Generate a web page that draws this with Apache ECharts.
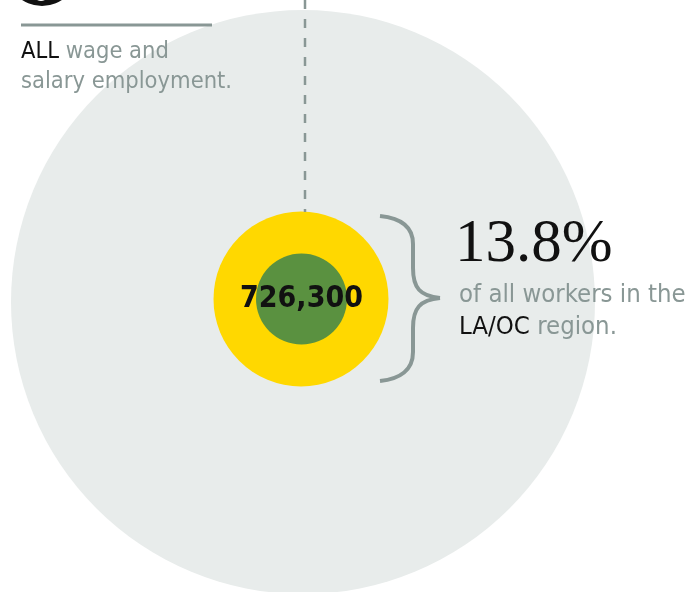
<!DOCTYPE html>
<html>
<head>
<meta charset="utf-8">
<script src="https://cdn.jsdelivr.net/npm/echarts@6/dist/echarts.min.js"></script>
<style>
  html, body { margin: 0; padding: 0; background: #ffffff; }
  #chart { width: 689px; height: 592px; }
</style>
</head>
<body>
<div id="chart"></div>
<script>
// Nested circles: all employment, the sector share, and the sector job count
const circleNames = ['All wage and salary employment', 'Sector share', 'Sector jobs'];
const sectorJobs = [726300];
const sectorShare = [13.8];
const leftLines = [['ALL', ' wage and'], ['', 'salary employment.']];
const rightLines = [['', 'of all workers in the'], ['LA/OC', ' region.']];

const GRAY = '#899795';
const BG_CIRCLE = '#e8eceb';
const YELLOW = '#ffd800';
const GREEN = '#5a9140';
const SANS = "'DejaVu Sans Condensed', 'DejaVu Sans', sans-serif";

const fmt = v => v.toLocaleString('en-US');

const chart = echarts.init(document.getElementById('chart'), null, { renderer: 'canvas' });

function circle(name, value, center, radius, color, z, label) {
  return {
    type: 'pie',
    name: name,
    center: center,
    radius: [0, radius],
    silent: true,
    z: z,
    startAngle: 90,
    label: label || { show: false },
    labelLine: { show: false },
    itemStyle: { color: color },
    emphasis: { disabled: true },
    data: [{ name: name, value: value }]
  };
}

function lineText(parts, x, y, size) {
  return {
    type: 'text',
    x: x,
    y: y,
    z: 20,
    style: {
      text: (parts[0] ? '{k|' + parts[0] + '}' : '') + '{g|' + parts[1] + '}',
      verticalAlign: 'middle',
      rich: {
        k: { fontFamily: SANS, fontSize: size, fill: '#111111' },
        g: { fontFamily: SANS, fontSize: size, fill: GRAY }
      }
    }
  };
}

const braceStyle = { stroke: GRAY, lineWidth: 4, fill: null };
function curve(x1, y1, cpx1, cpy1, cpx2, cpy2, x2, y2) {
  return { type: 'bezierCurve', z: 5, shape: { x1, y1, cpx1, cpy1, cpx2, cpy2, x2, y2 }, style: braceStyle };
}
function seg(x1, y1, x2, y2) {
  return { type: 'line', z: 5, shape: { x1, y1, x2, y2 }, style: braceStyle };
}

const graphics = [
  // dashed leader line from the top edge down to the share circle
  {
    type: 'line', z: 5,
    shape: { x1: 305, y1: 0, x2: 305, y2: 212 },
    style: { stroke: GRAY, lineWidth: 2.5, lineDash: [9, 10] }
  },
  // rule above the left caption
  {
    type: 'line', z: 5,
    shape: { x1: 21, y1: 25, x2: 212, y2: 25 },
    style: { stroke: GRAY, lineWidth: 3 }
  },
  // badge circle peeking in at the top-left corner
  {
    type: 'circle', z: 6,
    shape: { cx: 42, cy: -30, r: 36 },
    style: { fill: '#111111' }
  },
  {
    type: 'arc', z: 7,
    shape: { cx: 41, cy: -9, r: 9, startAngle: Math.PI * 0.3, endAngle: Math.PI * 0.7 },
    style: { stroke: '#ffffff', lineWidth: 1.5, fill: null }
  },
  // curly brace
  curve(380, 216, 400, 218, 413, 226, 413, 244),
  seg(413, 244, 413, 268),
  curve(413, 268, 413, 288, 420, 296, 440, 298),
  curve(440, 298, 420, 300, 413, 308, 413, 328),
  seg(413, 328, 413, 352),
  curve(413, 352, 413, 370, 400, 379, 380, 381),
  // share figure
  {
    type: 'text', x: 455, y: 245, z: 20,
    style: {
      text: sectorShare[0].toFixed(1) + '%',
      fontFamily: "'Liberation Serif', 'Times New Roman', serif",
      fontSize: 61,
      fill: '#111111',
      verticalAlign: 'middle'
    }
  },
  lineText(leftLines[0], 21, 52, 23.5),
  lineText(leftLines[1], 21, 82, 23.5),
  lineText(rightLines[0], 459, 295, 25.5),
  lineText(rightLines[1], 459, 327, 25.5)
];

chart.setOption({
  animation: false,
  backgroundColor: '#ffffff',
  series: [
    circle(circleNames[0], 100, [303, 302], 292, BG_CIRCLE, 1),
    circle(circleNames[1], sectorShare[0], [301, 299], 87.5, YELLOW, 2),
    circle(circleNames[2], sectorJobs[0], [301.5, 299], 45.5, GREEN, 3, {
      show: true,
      position: 'center',
      formatter: p => fmt(p.value),
      fontFamily: SANS,
      fontWeight: 'bold',
      fontSize: 30,
      color: '#111111'
    })
  ],
  graphic: graphics
});
</script>
</body>
</html>
